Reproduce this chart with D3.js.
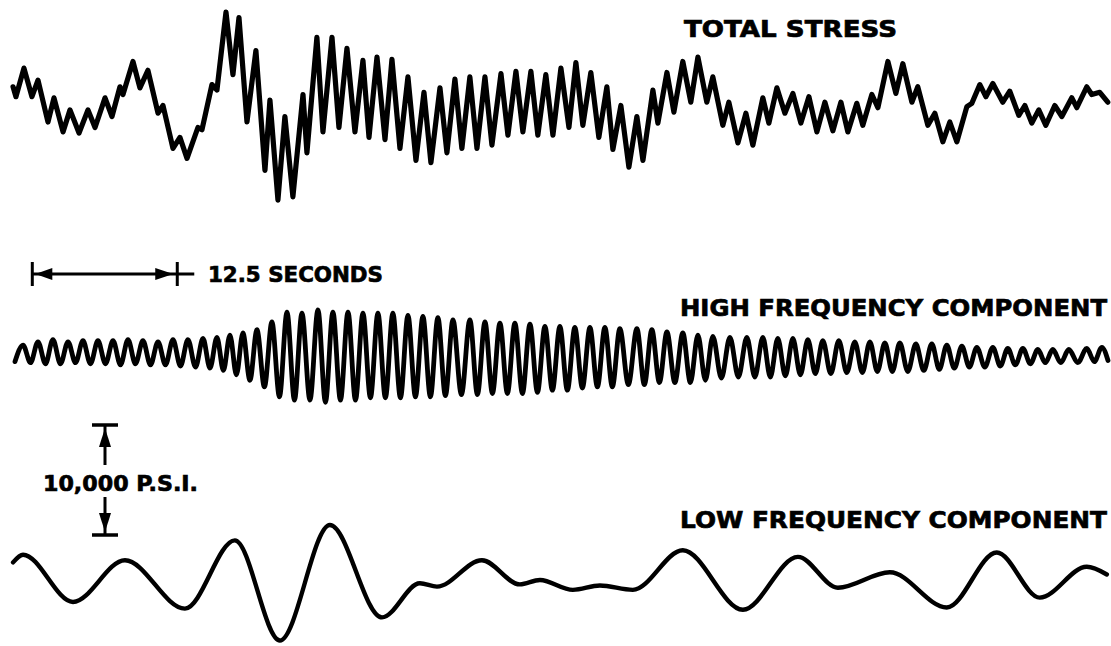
<!DOCTYPE html>
<html>
<head>
<meta charset="utf-8">
<script src="https://cdn.jsdelivr.net/npm/d3@7"></script>
<style>
  body { margin: 0; background: #fff; }
  .trace { fill: none; stroke: #000; stroke-linejoin: round; stroke-linecap: round; }
  .label { font-family: "DejaVu Sans", sans-serif; font-weight: bold; fill: #000; stroke: #000; stroke-width: 0.7px; }
</style>
</head>
<body>
<div id="chart"></div>
<script>
var width = 1111,
    height = 646;

// total stress: times (s) and stress (ksi)
var stressTimes = [0.09,0.34,1.03,1.72,2.24,3.10,3.62,4.40,5.00,5.78,6.55,7.16,8.02,8.62,9.31,9.57,10.43,11.03,11.72,12.59,
    13.02,13.88,14.48,15.09,16.03,16.38,17.24,17.67,18.45,19.05,19.57,20.26,21.03,21.81,22.24,22.93,23.53,24.22,25.09,25.43,
    26.29,26.81,27.59,28.19,28.88,29.57,30.26,30.78,31.47,32.16,32.76,33.45,34.14,34.83,35.52,36.12,36.90,37.50,38.19,38.79,
    39.48,40.09,40.78,41.38,42.16,42.76,43.45,44.05,44.74,45.34,46.03,46.64,47.33,48.02,48.62,49.22,49.91,50.60,51.29,51.81,
    52.50,53.19,53.88,54.40,55.26,55.69,56.47,57.07,57.84,58.53,59.14,59.91,60.43,61.29,61.81,62.59,63.28,63.88,64.74,65.26,
    65.95,66.64,67.33,68.02,68.71,69.40,70.09,70.78,71.47,72.07,72.84,73.36,74.14,74.66,75.52,76.21,76.81,77.59,78.10,78.97,
    79.57,80.26,80.86,81.47,82.33,82.76,83.45,83.97,84.57,85.43,86.03,86.81,87.33,87.93,88.53,89.14,89.91,90.52,91.38,91.81,
    92.67,93.10,93.79,94.48];
var stressValues = [1.2,0.3,2.9,0.3,1.8,-2.0,0.2,-2.9,-0.9,-3.0,-0.9,-2.5,0.2,-1.5,1.2,0.5,3.5,1.1,2.7,-1.2,
    -0.5,-4.4,-3.4,-5.3,-2.5,-2.7,1.4,0.9,8.0,2.3,7.5,-2.0,4.5,-6.4,0.0,-9.1,-1.5,-8.8,0.5,-4.8,
    5.7,-2.9,5.7,-2.5,4.7,-2.9,3.6,-3.4,3.9,-3.6,3.7,-4.4,2.1,-5.5,0.7,-5.7,1.1,-4.8,1.9,-4.4,
    2.1,-4.4,2.1,-4.1,2.4,-3.2,2.6,-2.9,2.6,-3.2,2.3,-3.2,2.9,-2.5,3.4,-2.3,2.5,-3.4,1.2,-4.5,
    -0.5,-6.1,-1.5,-5.5,0.9,-2.1,2.5,-1.1,3.5,-0.2,3.9,-0.2,2.1,-2.3,-0.2,-3.9,-1.2,-4.1,0.2,-2.1,
    1.1,-1.2,0.6,-2.1,0.3,-2.9,-0.2,-2.8,-0.2,-2.9,-0.3,-2.3,0.5,-0.7,3.5,0.6,3.3,-0.2,1.2,-2.3,
    -1.2,-3.8,-2.0,-3.8,-0.6,-0.3,1.4,0.3,1.5,-0.2,0.8,-1.4,-0.5,-2.1,-0.9,-2.3,-0.5,-1.5,0.2,-0.7,
    1.2,0.5,0.7,-0.2];

// high frequency component: time of each crest, crest and following trough (ksi)
var hfPeakTimes = [0.95,2.24,3.53,4.83,6.12,7.41,8.71,10.00,11.29,12.59,13.88,15.17,16.47,17.67,18.79,19.91,21.12,22.41,23.71,25.00,26.38,27.67,28.97,30.26,
    31.55,32.84,34.14,35.43,36.72,38.02,39.48,40.78,42.07,43.36,44.66,45.95,47.24,48.53,49.83,51.12,52.41,53.88,55.17,56.47,57.84,59.14,60.43,61.90,
    63.36,64.74,66.03,67.33,68.62,69.91,71.29,72.67,73.97,75.26,76.55,77.93,79.31,80.60,81.90,83.19,84.57,85.86,87.16,88.45,89.74,91.12,92.67,93.97];
var hfPeaks = [0.9,1.2,1.4,1.2,1.3,1.3,1.3,1.4,1.3,1.2,1.4,1.4,1.5,1.6,1.8,2.0,2.3,3.0,3.9,3.8,4.1,3.9,3.9,3.8,
    3.8,3.8,3.6,3.5,3.4,3.2,3.2,3.0,2.9,2.9,2.8,2.6,2.6,2.5,2.5,2.5,2.4,2.4,2.3,2.1,2.0,1.8,1.7,1.6,
    1.6,1.6,1.5,1.5,1.4,1.3,1.3,1.2,1.2,1.1,1.1,1.0,1.0,0.9,0.8,0.7,0.7,0.6,0.6,0.5,0.5,0.5,0.6,0.7];
var hfTroughs = [-0.7,-0.8,-0.8,-0.7,-0.8,-0.8,-0.9,-0.8,-0.9,-0.9,-1.0,-1.1,-1.2,-1.4,-1.8,-2.3,-2.9,-3.8,-4.1,-4.1,-4.3,-4.1,-4.1,-3.9,
    -3.9,-3.9,-3.8,-3.8,-3.7,-3.6,-3.6,-3.5,-3.5,-3.5,-3.4,-3.2,-3.2,-3.0,-2.9,-2.9,-2.7,-2.7,-2.5,-2.5,-2.5,-2.3,-2.1,-2.0,
    -2.0,-2.0,-1.9,-1.8,-1.7,-1.7,-1.6,-1.6,-1.5,-1.5,-1.5,-1.4,-1.3,-1.2,-1.1,-1.1,-1.0,-0.9,-0.8,-0.7,-0.7,-0.7,-0.6,-0.5];
var hfStart = [0.26, -0.6],
    hfEndTime = 94.5;

// low frequency component: turning points (s, ksi)
var lfTimes = [0.09,0.95,5.26,9.74,14.91,19.22,23.10,27.41,31.90,35.17,36.64,40.52,43.79,45.52,48.36,50.69,53.53,
    57.84,63.02,67.76,71.21,75.69,80.60,84.91,88.62,92.67,94.40];
var lfValues = [1.6,2.3,-2.0,1.8,-2.6,3.6,-5.5,5.0,-3.4,-0.3,-0.6,1.8,-0.4,0.0,-0.9,-0.5,-0.9,
    2.7,-2.7,2.1,-0.7,0.7,-2.5,2.5,-1.6,1.2,0.5];

// labels and scale marks
var titles = ["TOTAL STRESS", "HIGH FREQUENCY COMPONENT", "LOW FREQUENCY COMPONENT"];
var timeBar = {label: "12.5 SECONDS", start: 1.75, seconds: 12.5};
var stressBar = {label: "10,000 P.S.I.", ksi: 10};

var svg = d3.select("#chart")
    .append("svg")
    .attr("width", width)
    .attr("height", height);

var x = d3.scaleLinear()
    .domain([0, 94.5])
    .range([12, 1108]);

// 11 px per ksi around each trace's zero line
function panelScale(base) {
    return d3.scaleLinear().domain([-10, 10]).range([base + 110, base - 110]);
}
var yStress = panelScale(100),
    yHigh = panelScale(355),
    yLow = panelScale(580);

// total stress
var stressPts = d3.zip(stressTimes, stressValues);
svg.append("path")
    .datum(stressPts)
    .attr("class", "trace")
    .attr("stroke-width", 5.2)
    .attr("d", d3.line()
        .x(function (d) { return x(d[0]); })
        .y(function (d) { return yStress(d[1]); }));

// high frequency: crests and troughs alternate, trough halfway to next crest
var hfPts = [hfStart];
hfPeakTimes.forEach(function (t, i) {
    hfPts.push([t, hfPeaks[i]]);
    var next = i < hfPeakTimes.length - 1 ? (t + hfPeakTimes[i + 1]) / 2 : hfEndTime;
    hfPts.push([next, hfTroughs[i]]);
});
svg.append("path")
    .datum(hfPts)
    .attr("class", "trace")
    .attr("stroke-width", 4.8)
    .attr("d", d3.line()
        .curve(d3.curveMonotoneX)
        .x(function (d) { return x(d[0]); })
        .y(function (d) { return yHigh(d[1]); }));

// low frequency
svg.append("path")
    .datum(d3.zip(lfTimes, lfValues))
    .attr("class", "trace")
    .attr("stroke-width", 4.4)
    .attr("d", d3.line()
        .curve(d3.curveMonotoneX)
        .x(function (d) { return x(d[0]); })
        .y(function (d) { return yLow(d[1]); }));

// trace titles
var titlePos = [[684, 37, 213], [680, 316, 427], [680, 528, 427]];
svg.selectAll("text.title")
    .data(titles)
    .enter()
    .append("text")
    .attr("class", "label title")
    .attr("x", function (d, i) { return titlePos[i][0]; })
    .attr("y", function (d, i) { return titlePos[i][1]; })
    .attr("textLength", function (d, i) { return titlePos[i][2]; })
    .attr("lengthAdjust", "spacingAndGlyphs")
    .style("font-size", "23px")
    .text(function (d) { return d; });

// time scale bar
var tb = svg.append("g").attr("class", "time-bar"),
    x0 = x(timeBar.start),
    x1 = x(timeBar.start + timeBar.seconds),
    by = 274;
tb.append("line")
    .attr("x1", x0).attr("x2", x1 + 17)
    .attr("y1", by).attr("y2", by)
    .attr("stroke", "#000").attr("stroke-width", 3);
[x0, x1].forEach(function (px) {
    tb.append("line")
        .attr("x1", px).attr("x2", px)
        .attr("y1", by - 12).attr("y2", by + 12)
        .attr("stroke", "#000").attr("stroke-width", 3);
});
tb.append("path")
    .attr("d", "M" + (x0 + 3) + "," + by + "L" + (x0 + 20) + "," + (by - 6) + "L" + (x0 + 20) + "," + (by + 6) + "Z")
    .attr("fill", "#000");
tb.append("path")
    .attr("d", "M" + (x1 - 4) + "," + by + "L" + (x1 - 22) + "," + (by - 6) + "L" + (x1 - 22) + "," + (by + 6) + "Z")
    .attr("fill", "#000");
tb.append("text")
    .attr("class", "label")
    .attr("x", 208)
    .attr("y", by + 8)
    .attr("textLength", 175)
    .attr("lengthAdjust", "spacingAndGlyphs")
    .style("font-size", "22px")
    .text(timeBar.label);

// stress scale bar
var sbScale = d3.scaleLinear().domain([0, stressBar.ksi]).range([535, 425]),
    sx = 105,
    sb = svg.append("g").attr("class", "stress-bar");
[0, stressBar.ksi].forEach(function (v) {
    sb.append("line")
        .attr("x1", sx - 13).attr("x2", sx + 13)
        .attr("y1", sbScale(v)).attr("y2", sbScale(v))
        .attr("stroke", "#000").attr("stroke-width", 3.5);
});
var barTop = sbScale(stressBar.ksi),
    barBot = sbScale(0);
sb.append("line")
    .attr("x1", sx).attr("x2", sx).attr("y1", barTop).attr("y2", barTop + 40)
    .attr("stroke", "#000").attr("stroke-width", 3);
sb.append("line")
    .attr("x1", sx).attr("x2", sx).attr("y1", barBot - 38).attr("y2", barBot)
    .attr("stroke", "#000").attr("stroke-width", 3);
sb.append("path")
    .attr("d", "M" + sx + "," + (barTop + 3) + "L" + (sx - 6) + "," + (barTop + 22) + "L" + (sx + 6) + "," + (barTop + 22) + "Z")
    .attr("fill", "#000");
sb.append("path")
    .attr("d", "M" + sx + "," + (barBot - 3) + "L" + (sx - 6) + "," + (barBot - 22) + "L" + (sx + 6) + "," + (barBot - 22) + "Z")
    .attr("fill", "#000");
sb.append("text")
    .attr("class", "label")
    .attr("x", 43)
    .attr("y", 491)
    .attr("textLength", 155)
    .attr("lengthAdjust", "spacingAndGlyphs")
    .style("font-size", "22px")
    .text(stressBar.label);
</script>
</body>
</html>
